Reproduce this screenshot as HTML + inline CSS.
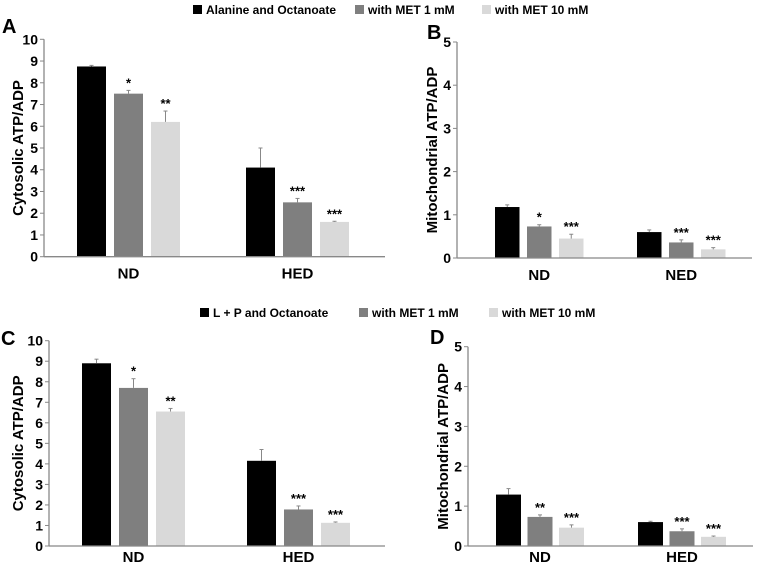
<!DOCTYPE html>
<html><head><meta charset="utf-8"><style>
body{margin:0;background:#fff;}
svg{display:block;font-family:"Liberation Sans",Arial,sans-serif;}
text{font-weight:bold;fill:#000;}
</style></head><body>
<svg id="fig" width="760" height="565" viewBox="0 0 760 565" xmlns="http://www.w3.org/2000/svg">
<g>
<rect x="193" y="5" width="9" height="9" fill="#000"/>
<text x="206" y="14" font-size="12">Alanine and Octanoate</text>
<rect x="355" y="5" width="9" height="9" fill="#7f7f7f"/>
<text x="368" y="14" font-size="12">with MET 1 mM</text>
<rect x="482" y="5" width="9" height="9" fill="#d9d9d9"/>
<text x="495" y="14" font-size="12">with MET 10 mM</text>
</g>
<g>
<rect x="200" y="308" width="9" height="9" fill="#000"/>
<text x="213" y="317" font-size="12">L + P and Octanoate</text>
<rect x="359" y="308" width="9" height="9" fill="#7f7f7f"/>
<text x="372" y="317" font-size="12">with MET 1 mM</text>
<rect x="489" y="308" width="9" height="9" fill="#d9d9d9"/>
<text x="502" y="317" font-size="12">with MET 10 mM</text>
</g>
</svg>
<script>
const categoriesA=["ND","HED"];
const valuesA=[[8.75,7.5,6.2],[4.1,2.5,1.6]];
const errorsA=[[0.05,0.15,0.5],[0.9,0.18,0.03]];
const starsA=[["","*","**"],["","***","***"]];
const ticksA=[0,1,2,3,4,5,6,7,8,9,10];

const categoriesB=["ND","NED"];
const valuesB=[[1.18,0.73,0.45],[0.6,0.36,0.2]];
const errorsB=[[0.05,0.04,0.1],[0.05,0.06,0.04]];
const starsB=[["","*","***"],["","***","***"]];
const ticksB=[0,1,2,3,4,5];

const categoriesC=["ND","HED"];
const valuesC=[[8.9,7.7,6.55],[4.15,1.78,1.13]];
const errorsC=[[0.2,0.45,0.15],[0.55,0.17,0.04]];
const starsC=[["","*","**"],["","***","***"]];
const ticksC=[0,1,2,3,4,5,6,7,8,9,10];

const categoriesD=["ND","HED"];
const valuesD=[[1.29,0.73,0.46],[0.6,0.37,0.23]];
const errorsD=[[0.15,0.05,0.07],[0.02,0.06,0.02]];
const starsD=[["","**","***"],["","***","***"]];
const ticksD=[0,1,2,3,4,5];

const NS="http://www.w3.org/2000/svg";
const svg=document.getElementById('fig');
const COLORS=["#000000","#7f7f7f","#d9d9d9"];
function mk(tag,attrs,parent){const e=document.createElementNS(NS,tag);for(const k in attrs)e.setAttribute(k,attrs[k]);parent.appendChild(e);return e;}

function panel(p){
  const g=mk('g',{},svg);
  
  
  const max=p.ticks[p.ticks.length-1];
  const y=v=>p.y0-(v/max)*(p.y0-p.yTop);
  const ya=mk('line',{x1:p.x0,x2:p.x0,y1:p.yTop,y2:p.y0,stroke:'#888','stroke-width':1.3},g);
  
  
  p.ticks.forEach(t=>{
    const tk=mk('line',{x1:p.x0-4,x2:p.x0,y1:y(t),y2:y(t),stroke:'#888','stroke-width':1},g);
    
    
    const tl=mk('text',{x:p.x0-6,y:y(t)+5,'font-size':14,'text-anchor':'end'},g);
    tl.textContent=t;
    
    
  });
  p.cats.forEach((c,i)=>{
    p.vals[i].forEach((v,j)=>{
      const bx=p.groupX[i]+j*p.step;
      const b=mk('rect',{x:bx,y:y(v),width:p.bw,height:p.y0-y(v),fill:COLORS[j]},g);
      
      
      const cx=bx+p.bw/2, top=y(v+p.errs[i][j]);
      const el=mk('line',{x1:cx,x2:cx,y1:top,y2:y(v),stroke:'#888','stroke-width':1},g);
      
      
      const ec=mk('line',{x1:cx-2,x2:cx+2,y1:top,y2:top,stroke:'#888','stroke-width':1},g);
      
      
      if(p.stars[i][j]){
        const s=mk('text',{x:cx,y:top-3,'font-size':13,'text-anchor':'middle'},g);
        s.textContent=p.stars[i][j];
        
        
      }
    });
    const cl=mk('text',{x:p.groupX[i]+p.step+p.bw/2,y:p.y0+p.catDy,'font-size':15,'text-anchor':'middle'},g);
    cl.textContent=c;
    
    
  });
  const xa=mk('line',{x1:p.x0,x2:p.xEnd,y1:p.y0,y2:p.y0,stroke:'#888','stroke-width':1.3},g);
  
  
  const t=mk('text',{x:p.titleX,y:(p.y0+p.yTop)/2,'font-size':15,'text-anchor':'middle',transform:`rotate(-90 ${p.titleX} ${(p.y0+p.yTop)/2})`},g);
  t.textContent=p.title;
  
  
  const L=mk('text',{x:p.lx,y:p.ly,'font-size':20},g);
  L.textContent=p.id;
  
  
}
panel({id:'A',cats:categoriesA,vals:valuesA,errs:errorsA,stars:starsA,ticks:ticksA,x0:44,xEnd:385,y0:256.7,yTop:39.3,groupX:[77,246],step:37,bw:29,title:'Cytosolic ATP/ADP',titleX:23,lx:2,ly:33,catDy:22});
panel({id:'B',cats:categoriesB,vals:valuesB,errs:errorsB,stars:starsB,ticks:ticksB,x0:457,xEnd:752,y0:258,yTop:42,groupX:[495,637],step:32,bw:24.5,title:'Mitochondrial ATP/ADP',titleX:437,lx:427,ly:39,catDy:22});
panel({id:'C',cats:categoriesC,vals:valuesC,errs:errorsC,stars:starsC,ticks:ticksC,x0:49,xEnd:385,y0:546,yTop:340.7,groupX:[82,247],step:37,bw:29,title:'Cytosolic ATP/ADP',titleX:23,lx:1,ly:345,catDy:16});
panel({id:'D',cats:categoriesD,vals:valuesD,errs:errorsD,stars:starsD,ticks:ticksD,x0:468,xEnd:753,y0:546,yTop:346.7,groupX:[496,638],step:31.5,bw:25,title:'Mitochondrial ATP/ADP',titleX:448,lx:430,ly:344,catDy:16});
</script>
</body></html>
